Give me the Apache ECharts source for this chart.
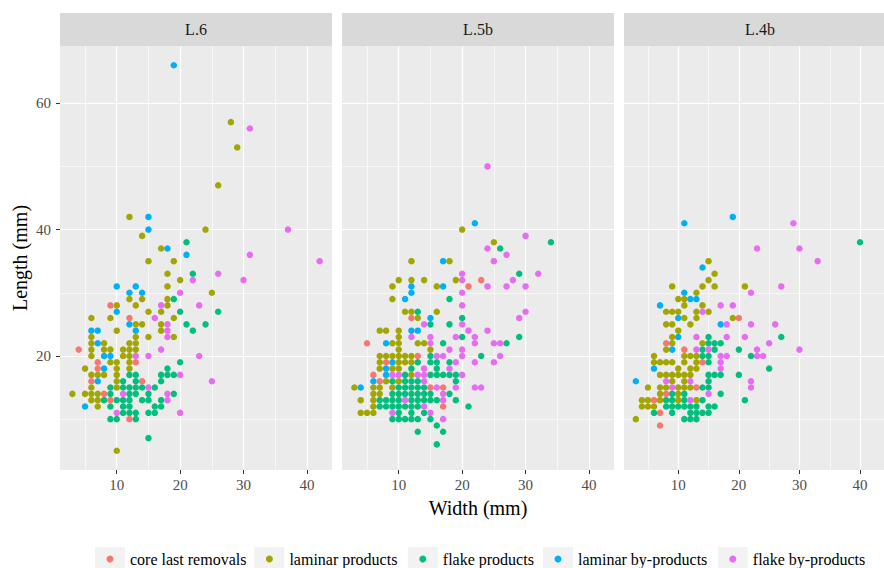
<!DOCTYPE html>
<html><head><meta charset="utf-8">
<script src="https://cdn.jsdelivr.net/npm/echarts@6/dist/echarts.min.js"></script>
<style>html,body{margin:0;padding:0;background:#fff}#c{width:884px;height:568px}</style>
</head><body><div id="c"></div>
<script>
const FONT = '"Liberation Serif", "DejaVu Serif", serif';
const panels = ['L.6', 'L.5b', 'L.4b'];
const categories = ['core last removals', 'laminar products', 'flake products', 'laminar by-products', 'flake by-products'];
const colors = ['#F8766D', '#A3A500', '#00BF7D', '#00B0F6', '#E76BF3'];
const xTicks = [10, 20, 30, 40];
const xMinor = [5, 15, 25, 35];
const yTicks = [20, 40, 60];
const yMinor = [10, 30, 50];
const xRange = [1.05, 43.95];
const yRange = [1.95, 69.05];

// [width, length] pairs, mm
const l6Core = [[4,21],[9,28],[12,26],[7,19],[13,19],[7,18],[6,16],[14,16],[8,14],[9,13],[12,10]];
const l6Laminar = [[28,57],[29,53],[26,47],[12,42],[24,40],[14,39],[17,37],[15,35],[19,35],[18,33],[20,32],[18,31],[25,30],[12,29],[14,29],[18,29],[10,28],[13,28],[18,28],[15,27],[17,27],[6,26],[9,26],[19,26],[13,25],[14,25],[17,25],[10,24],[17,24],[6,23],[13,23],[15,23],[19,23],[6,22],[8,22],[12,22],[13,22],[6,21],[8,21],[9,21],[11,21],[12,21],[13,21],[6,20],[11,20],[12,20],[9,19],[10,19],[12,19],[5,18],[10,18],[12,18],[6,17],[7,17],[8,17],[10,17],[10,16],[6,15],[10,15],[3,14],[5,14],[6,14],[7,14],[6,13],[7,13],[7,12],[10,5]];
const l6Flake = [[21,38],[22,33],[19,29],[20,27],[26,27],[21,25],[24,25],[22,24],[20,19],[18,18],[12,17],[13,17],[17,17],[18,17],[19,17],[11,16],[13,16],[17,16],[9,15],[11,15],[12,15],[13,15],[14,15],[16,15],[9,14],[12,14],[13,14],[15,14],[19,14],[8,13],[10,13],[11,13],[12,13],[14,13],[15,13],[17,13],[9,12],[11,12],[12,12],[16,12],[17,12],[11,11],[12,11],[13,11],[15,11],[16,11],[9,10],[10,10],[13,10],[15,7]];
const l6LamBy = [[19,66],[15,42],[15,40],[18,37],[21,36],[10,31],[13,31],[12,30],[14,30],[10,27],[12,25],[6,24],[7,24],[13,24],[7,22],[8,20],[9,20],[8,18],[7,16],[5,12]];
const l6FlakeBy = [[31,56],[37,40],[31,36],[42,35],[26,33],[22,32],[30,32],[20,30],[17,28],[23,28],[16,26],[18,25],[18,24],[18,23],[17,21],[13,20],[15,20],[23,20],[20,17],[25,16],[15,15],[11,14],[18,14],[18,13],[10,11],[20,11]];

const l5Core = [[23,32],[21,31],[12,26],[5,22],[13,20],[8,19],[6,17],[7,16],[15,15],[17,15],[17,12]];
const l5Laminar = [[20,40],[25,38],[12,35],[18,35],[10,32],[12,32],[14,32],[19,32],[9,31],[16,31],[9,29],[11,27],[12,27],[16,27],[13,26],[7,24],[8,24],[10,24],[10,23],[9,22],[10,22],[13,22],[14,22],[10,21],[15,21],[7,20],[8,20],[9,20],[10,20],[11,20],[12,20],[7,19],[10,19],[11,19],[12,19],[7,18],[9,18],[10,18],[12,17],[8,16],[10,16],[3,15],[6,15],[7,15],[9,15],[6,14],[7,14],[4,13],[6,13],[6,12],[4,11],[5,11],[6,11]];
const l5Flake = [[34,38],[26,37],[29,33],[18,29],[13,27],[20,26],[15,25],[18,25],[20,23],[29,23],[17,22],[27,22],[15,20],[23,20],[13,19],[15,19],[16,19],[18,19],[12,18],[16,18],[11,17],[15,17],[16,17],[17,17],[18,17],[19,17],[9,16],[11,16],[12,16],[13,16],[19,16],[10,15],[11,15],[12,15],[13,15],[14,15],[9,14],[10,14],[11,14],[12,14],[13,14],[14,14],[15,14],[18,14],[7,13],[8,13],[9,13],[10,13],[12,13],[13,13],[14,13],[15,13],[16,13],[19,13],[7,12],[8,12],[9,12],[10,12],[11,12],[12,12],[13,12],[21,12],[10,11],[12,11],[14,11],[9,10],[10,10],[11,10],[12,10],[13,10],[15,10],[16,9],[13,8],[17,8],[16,6]];
const l5LamBy = [[22,41],[17,35],[12,31],[17,31],[12,30],[11,29],[15,26],[12,24],[13,24],[8,22],[9,19],[8,18],[8,17],[6,16],[4,15]];
const l5FlakeBy = [[24,50],[30,39],[24,37],[27,36],[25,35],[20,33],[32,33],[20,32],[28,32],[24,31],[27,31],[30,31],[20,30],[20,28],[30,27],[29,26],[14,25],[20,25],[21,24],[24,24],[12,23],[15,23],[19,23],[22,23],[15,22],[22,22],[25,22],[26,22],[18,21],[20,21],[16,20],[17,20],[20,20],[26,20],[19,19],[22,19],[25,19],[14,18],[18,18],[9,17],[10,17],[13,17],[14,17],[20,17],[14,16],[16,15],[19,15],[22,15],[23,15],[17,14],[11,13],[17,13],[14,12],[9,11],[15,11],[17,10]];

const l4Core = [[20,26],[8,22],[11,21],[14,19],[13,15],[8,14],[6,13],[7,11],[7,9]];
const l4Laminar = [[15,35],[16,33],[15,32],[9,31],[14,31],[16,31],[21,31],[13,30],[10,29],[11,29],[11,28],[14,28],[8,27],[9,27],[10,27],[13,27],[15,27],[11,26],[13,26],[19,26],[8,25],[9,25],[12,25],[10,24],[9,23],[9,22],[14,22],[8,21],[6,20],[11,20],[12,20],[13,20],[6,19],[7,19],[8,19],[9,19],[11,19],[13,19],[10,18],[12,18],[13,18],[7,17],[8,17],[9,17],[10,17],[11,17],[12,17],[9,16],[11,16],[5,15],[7,15],[8,15],[10,15],[11,15],[12,15],[7,14],[10,14],[4,13],[5,13],[7,13],[10,13],[13,13],[4,12],[5,12],[6,12],[3,10]];
const l4Flake = [[40,38],[27,23],[15,23],[15,22],[16,22],[17,22],[14,21],[16,21],[20,21],[14,20],[15,20],[22,20],[15,19],[25,18],[15,17],[16,17],[17,17],[20,17],[15,16],[14,15],[15,15],[9,14],[11,14],[17,14],[8,13],[9,13],[11,13],[14,13],[21,13],[8,12],[9,12],[10,12],[11,12],[12,12],[13,12],[15,12],[16,12],[6,11],[9,11],[12,11],[13,11],[14,11],[15,11],[11,10],[12,10],[13,10]];
const l4LamBy = [[19,42],[11,41],[14,34],[11,30],[12,29],[13,29],[7,28],[10,26],[17,25],[10,23],[9,21],[6,18],[3,16]];
const l4FlakeBy = [[29,41],[23,37],[30,37],[33,35],[27,31],[22,30],[17,28],[19,28],[14,27],[18,25],[22,25],[26,25],[13,23],[18,23],[21,23],[25,22],[13,21],[15,21],[23,21],[30,21],[17,20],[18,20],[23,20],[24,20],[17,19],[17,18],[8,16],[12,16],[22,16],[9,15],[22,15],[15,14],[12,13]];

const panelData = [
  [l6Core, l6Laminar, l6Flake, l6LamBy, l6FlakeBy],
  [l5Core, l5Laminar, l5Flake, l5LamBy, l5FlakeBy],
  [l4Core, l4Laminar, l4Flake, l4LamBy, l4FlakeBy]
];

// layout
const panelLeft = [60, 342, 624];
const panelW = 272, panelTop = 46, panelH = 424;
const stripTop = 13, stripH = 33;
const legendDot = [110, 269.4, 422.8, 558, 732.8];
const legendY = 559;

const grid = panelLeft.map(l => ({left: l, top: panelTop, width: panelW, height: panelH, show: true, backgroundColor: '#EBEBEB', borderWidth: 0, containLabel: false, z: 0}));

const xAxis = panelLeft.map((l, i) => ({
  type: 'value', gridIndex: i, min: xRange[0], max: xRange[1],
  axisLine: {show: false},
  splitLine: {show: false},
  axisTick: {show: true, customValues: xTicks, length: 4, lineStyle: {color: '#333333', width: 1}},
  axisLabel: {show: true, customValues: xTicks, margin: 7, color: '#4D4D4D', fontFamily: FONT, fontSize: 15,
    formatter: v => xTicks.includes(v) ? String(v) : ''}
}));
const yAxis = panelLeft.map((l, i) => ({
  type: 'value', gridIndex: i, min: yRange[0], max: yRange[1],
  axisLine: {show: false},
  splitLine: {show: false},
  axisTick: {show: i === 0, customValues: yTicks, length: 4, lineStyle: {color: '#333333', width: 1}},
  axisLabel: {show: i === 0, customValues: yTicks, margin: 9, color: '#4D4D4D', fontFamily: FONT, fontSize: 15,
    formatter: v => yTicks.includes(v) ? String(v) : ''}
}));

const series = [];
panelLeft.forEach((l, i) => {
  const gl = [];
  xMinor.forEach(v => gl.push({xAxis: v, lineStyle: {width: 0.6}}));
  yMinor.forEach(v => gl.push({yAxis: v, lineStyle: {width: 0.6}}));
  xTicks.forEach(v => gl.push({xAxis: v, lineStyle: {width: 1.2}}));
  yTicks.forEach(v => gl.push({yAxis: v, lineStyle: {width: 1.2}}));
  series.push({
    type: 'scatter', name: 'grid' + i, xAxisIndex: i, yAxisIndex: i, data: [], z: 1, silent: true,
    markLine: {silent: true, symbol: 'none', animation: false, z: 1, label: {show: false},
      lineStyle: {color: '#FFFFFF', type: 'solid'}, emphasis: {disabled: true}, data: gl}
  });
});
panelLeft.forEach((l, i) => {
  categories.forEach((c, k) => {
    series.push({
      type: 'scatter', name: c, xAxisIndex: i, yAxisIndex: i, z: 6,
      symbol: 'circle', symbolSize: 6.5, animation: false,
      itemStyle: {color: colors[k], opacity: 1},
      emphasis: {disabled: true},
      data: panelData[i][k]
    });
  });
});

const legend = categories.map((c, k) => ({
  data: [{name: c, icon: 'circle'}],
  left: legendDot[k] - 3.5, top: legendY - 8,
  itemWidth: 7, itemHeight: 7, padding: 0, selectedMode: false,
  textStyle: {fontFamily: FONT, fontSize: 16, color: '#000000', padding: [0, 0, 0, 11.5], lineHeight: 16}
}));

const graphic = [];
panelLeft.forEach((l, i) => {
  graphic.push({type: 'rect', left: l, top: stripTop, shape: {width: panelW, height: stripH}, style: {fill: '#D9D9D9'}, silent: true, z: 0});
  graphic.push({type: 'text', x: l + panelW / 2, y: stripTop + stripH / 2, style: {text: panels[i], fill: '#1A1A1A', font: '16px ' + FONT, textAlign: 'center', textVerticalAlign: 'middle'}, silent: true, z: 1});
});
legendDot.forEach(d => {
  graphic.push({type: 'rect', x: d - 15, y: legendY - 12, shape: {width: 30, height: 24}, style: {fill: '#F2F2F2'}, silent: true, z: -1});
});
graphic.push({type: 'text', x: 478, y: 508, style: {text: 'Width (mm)', fill: '#000000', font: '20px ' + FONT, textAlign: 'center', textVerticalAlign: 'middle'}, silent: true});
graphic.push({type: 'text', x: 20, y: 258, rotation: Math.PI / 2, style: {text: 'Length (mm)', fill: '#000000', font: '20px ' + FONT, textAlign: 'center', textVerticalAlign: 'middle'}, silent: true});

const chart = echarts.init(document.getElementById('c'), null, {renderer: 'svg', width: 884, height: 568});
chart.setOption({
  animation: false,
  backgroundColor: '#FFFFFF',
  grid, xAxis, yAxis, series, legend, graphic
});
</script>
</body></html>
